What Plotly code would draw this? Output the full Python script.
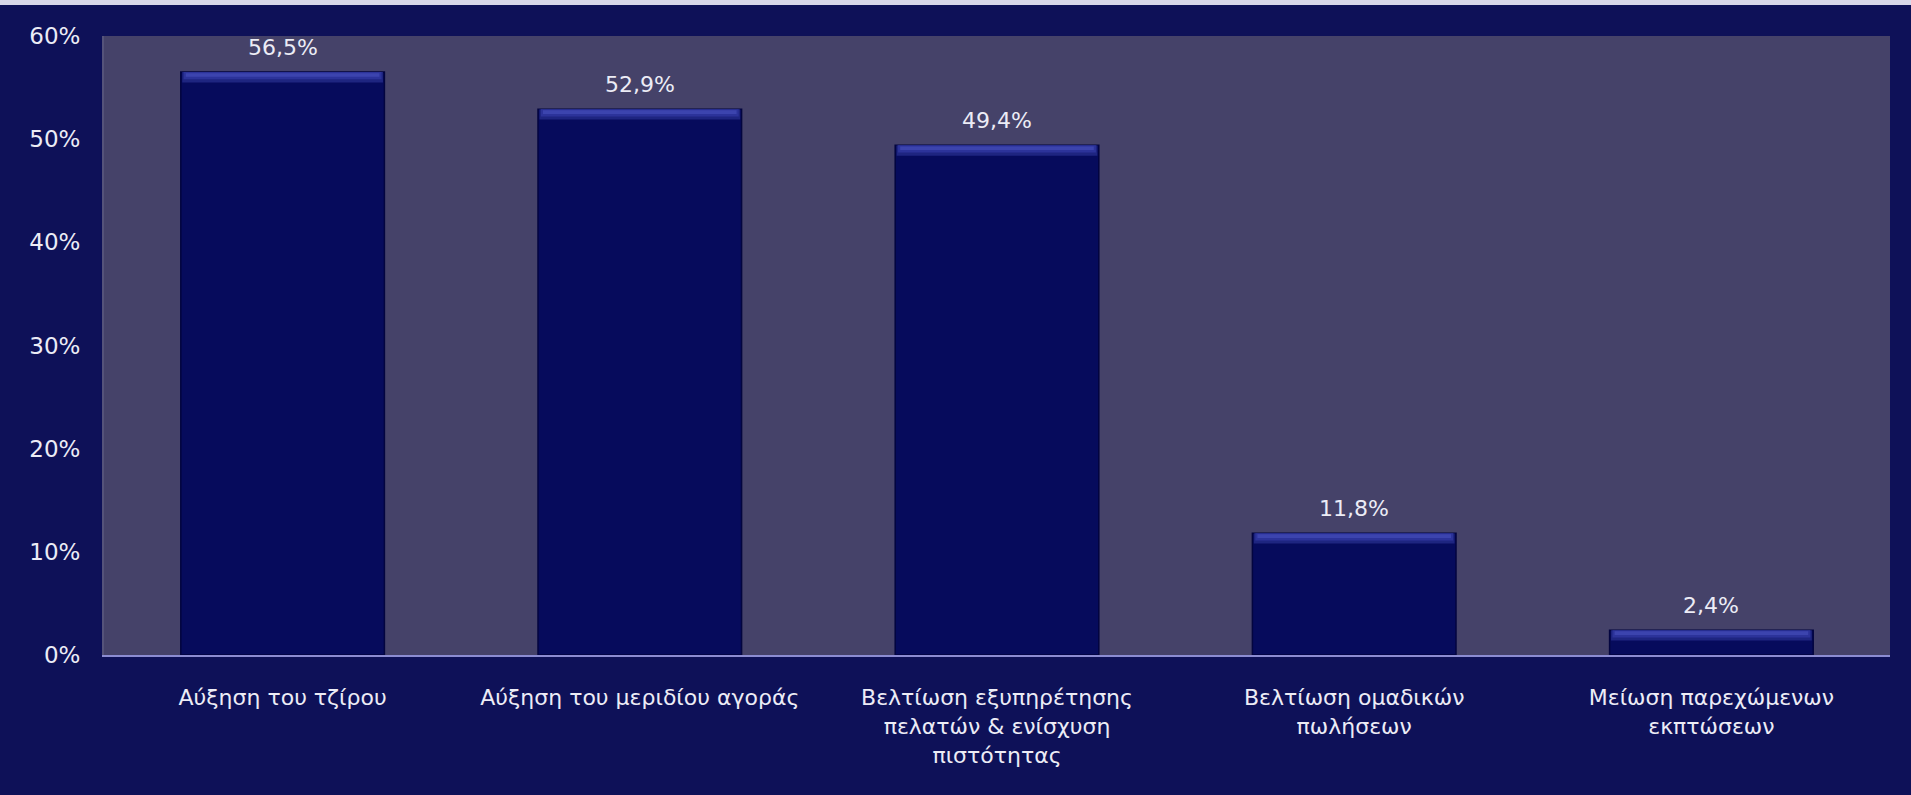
import plotly.graph_objects as go

# Survey results: share of respondents per expected benefit
categories = [
    "Αύξηση του τζίρου",
    "Αύξηση του μεριδίου αγοράς",
    "Βελτίωση εξυπηρέτησης<br>πελατών & ενίσχυση<br>πιστότητας",
    "Βελτίωση ομαδικών<br>πωλήσεων",
    "Μείωση παρεχώμενων<br>εκπτώσεων",
]
values = [56.5, 52.9, 49.4, 11.8, 2.4]
value_labels = ["56,5%", "52,9%", "49,4%", "11,8%", "2,4%"]
y_tick_vals = [0, 10, 20, 30, 40, 50, 60]
y_tick_text = ["0%", "10%", "20%", "30%", "40%", "50%", "60%"]

BG = "#0E1158"
PLOT_BG = "#454269"
BAR = "#060B5C"
TEXT = "#ECECF6"
FONT = "DejaVu Sans"
BAR_WIDTH = 0.57

fig = go.Figure()
fig.add_trace(go.Bar(
    x=list(range(len(categories))),
    y=values,
    width=BAR_WIDTH,
    marker=dict(color=BAR, line=dict(color="#03053F", width=1.5)),
    hoverinfo="skip",
))

# value labels above each bar
for i, (v, t) in enumerate(zip(values, value_labels)):
    fig.add_annotation(x=i, y=v, text=t, showarrow=False, yanchor="bottom",
                       yshift=10, font=dict(family=FONT, size=22, color=TEXT))

# bevelled highlight along the top of each bar
shapes = []
for i, v in enumerate(values):
    half = BAR_WIDTH / 2
    shapes.append(dict(type="rect", xref="x", yref="y", layer="above",
                       x0=i - half + 0.004, x1=i + half - 0.004,
                       y0=v - 1.0, y1=v, line=dict(width=0),
                       fillcolor="#1E2580"))
    shapes.append(dict(type="rect", xref="x", yref="y", layer="above",
                       x0=i - half + 0.008, x1=i + half - 0.008,
                       y0=v - 0.7, y1=v, line=dict(width=0),
                       fillcolor="#2C339A"))
    shapes.append(dict(type="rect", xref="x", yref="y", layer="above",
                       x0=i - half + 0.014, x1=i + half - 0.014,
                       y0=v - 0.45, y1=v - 0.1, line=dict(width=0),
                       fillcolor="#3C44AE"))

# light strip along the top edge of the canvas
shapes.append(dict(type="rect", xref="paper", yref="paper", layer="below",
                   x0=-0.06, x1=1.02, y0=1.050, y1=1.06,
                   line=dict(width=0), fillcolor="#D8D8EA"))
fig.update_layout(shapes=shapes)

fig.update_layout(
    width=1911, height=795,
    margin=dict(l=104, r=21, t=36, b=140),
    paper_bgcolor=BG,
    plot_bgcolor=PLOT_BG,
    showlegend=False,
    bargap=1 - BAR_WIDTH,
    font=dict(family=FONT, size=22, color=TEXT),
    xaxis=dict(
        tickmode="array", tickvals=list(range(len(categories))), ticktext=categories,
        range=[-0.5, len(categories) - 0.5],
        showgrid=False, zeroline=False,
        showline=True, linecolor="#8C8CD2", linewidth=2,
        ticks="", ticklabelstandoff=22,
        tickfont=dict(family=FONT, size=22, color=TEXT),
    ),
    yaxis=dict(
        range=[0, 60], tickmode="array", tickvals=y_tick_vals, ticktext=y_tick_text,
        showgrid=False, zeroline=False,
        showline=True, linecolor="#55537A", linewidth=2,
        ticks="", ticklabelstandoff=17,
        tickfont=dict(family=FONT, size=23, color=TEXT),
    ),
)

fig.write_html("out.html")
